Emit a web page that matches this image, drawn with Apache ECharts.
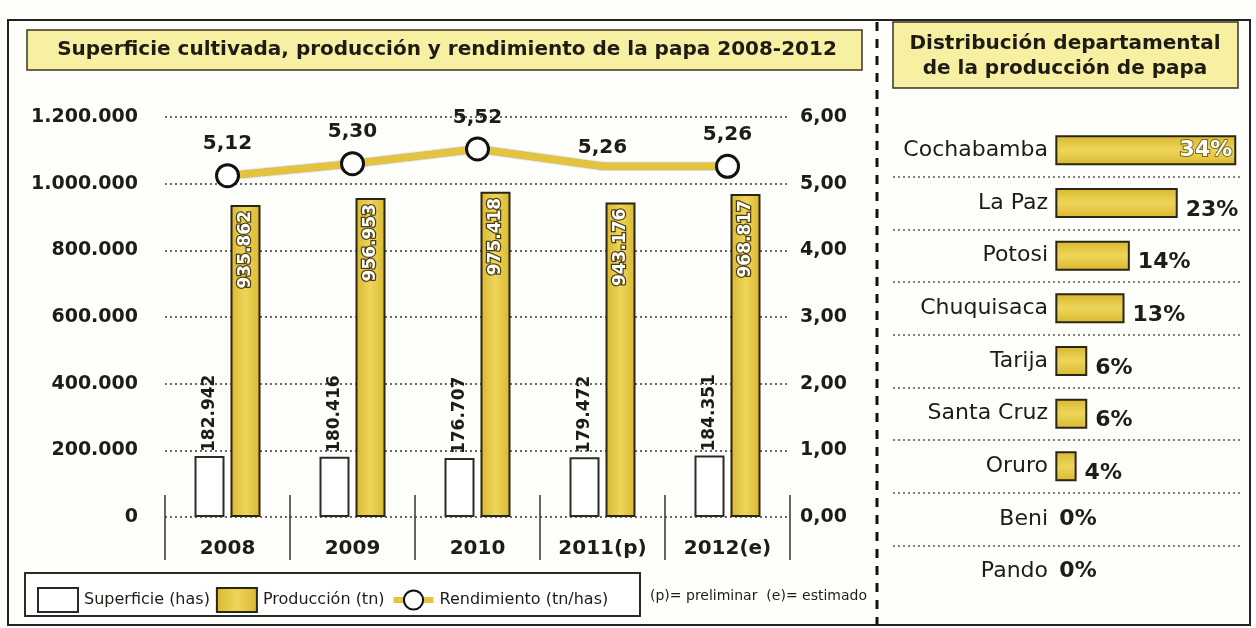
<!DOCTYPE html>
<html>
<head>
<meta charset="utf-8">
<script src="https://cdn.jsdelivr.net/npm/echarts@6/dist/echarts.min.js"></script>
<style>
  html, body { margin: 0; padding: 0; background: #fefefb; }
  #chart { width: 1256px; height: 628px; }
</style>
</head>
<body>
<div id="chart"></div>
<script>
// Papa en Bolivia: superficie, producción y rendimiento por año
const years = ['2008', '2009', '2010', '2011(p)', '2012(e)'];
const superficie = [182942, 180416, 176707, 179472, 184351];   // has
const produccion = [935862, 956953, 975418, 943176, 968817];   // tn
const rendimiento = [5.12, 5.30, 5.52, 5.26, 5.26];            // tn/has
// 2011 point is drawn without a circle marker
const rendimientoSinMarca = [false, false, false, true, false];

// Distribución departamental de la producción (%)
const departamentos = ['Cochabamba', 'La Paz', 'Potosi', 'Chuquisaca', 'Tarija', 'Santa Cruz', 'Oruro', 'Beni', 'Pando'];
const participacion = [34, 23, 14, 13, 6, 6, 4, 0, 0];

// Axis ranges
const prodAxis = { min: 0, max: 1200000, interval: 200000 };
const rendAxis = { min: 0, max: 6, interval: 1 };
const partAxis = { min: -30.5, max: 34.7 };   // negative side leaves room for the department names

const INK = '#1f1c16';
const YELLOW = '#e3c43c';
const FONT = 'DejaVu Sans';

const miles = n => String(n).replace(/\B(?=(\d{3})+(?!\d))/g, '.');
const decimal = v => v.toFixed(2).replace('.', ',');

const yellowFill = (horizontal) => new echarts.graphic.LinearGradient(
  0, 0, horizontal ? 0 : 1, horizontal ? 1 : 0,
  [{ offset: 0, color: '#d8b72e' }, { offset: 0.5, color: '#eed55a' }, { offset: 1, color: '#d8b72e' }]
);

const chart = echarts.init(document.getElementById('chart'));

chart.setOption({
  backgroundColor: '#fefefb',
  animation: false,
  textStyle: { fontFamily: FONT, color: INK },
  grid: [
    { left: 165, right: 466, top: 117, bottom: 111 },
    { left: 893, right: 16, top: 124, bottom: 30 }
  ],
  legend: {
    left: 32, top: 582,
    itemWidth: 40, itemHeight: 24, itemGap: 6,
    textStyle: { fontFamily: FONT, fontSize: 16, color: INK, padding: [0, 0, 0, 1] },
    data: [
      { name: 'Superficie (has)', icon: 'rect' },
      { name: 'Producción (tn)', icon: 'rect' },
      { name: 'Rendimiento (tn/has)', lineStyle: { width: 6 } }
    ]
  },
  xAxis: [
    {
      type: 'category', gridIndex: 0, data: years, offset: -22,
      axisLine: { show: false },
      axisTick: { show: true, length: 65, lineStyle: { color: '#333', width: 1.5 } },
      axisLabel: { margin: 44, fontFamily: FONT, fontWeight: 'bold', fontSize: 20, color: INK }
    },
    { type: 'value', gridIndex: 1, ...partAxis, show: false }
  ],
  yAxis: [
    {
      type: 'value', gridIndex: 0, position: 'left', ...prodAxis,
      axisLine: { show: false }, axisTick: { show: false },
      axisLabel: { margin: 27, fontFamily: FONT, fontWeight: 'bold', fontSize: 19, color: INK, formatter: miles },
      splitLine: { show: true, lineStyle: { color: '#3a3a3a', width: 1.5, type: [2, 3] } }
    },
    {
      type: 'value', gridIndex: 0, position: 'right', ...rendAxis,
      axisLine: { show: false }, axisTick: { show: false },
      axisLabel: { margin: 10, fontFamily: FONT, fontWeight: 'bold', fontSize: 19, color: INK, formatter: decimal },
      splitLine: { show: false }
    },
    {
      type: 'category', gridIndex: 1, data: departamentos, inverse: true,
      axisLine: { show: false, onZero: false }, axisTick: { show: false },
      // names sit just left of the zero line of the bars
      axisLabel: { margin: -155, fontFamily: FONT, fontSize: 22, color: INK },
      splitLine: { show: true, showMinLine: false, showMaxLine: false, lineStyle: { color: '#555', width: 1.5, type: [2, 3] } }
    }
  ],
  series: [
    {
      name: 'Superficie (has)', type: 'bar', xAxisIndex: 0, yAxisIndex: 0,
      barWidth: 30, barGap: '20%',
      data: superficie,
      itemStyle: { color: '#ffffff', borderColor: '#2a2a2a', borderWidth: 2 },
      label: {
        show: true, position: 'top', rotate: 90, align: 'left', verticalAlign: 'middle', distance: 4,
        fontFamily: FONT, fontWeight: 'bold', fontSize: 17, color: INK, formatter: p => miles(p.value)
      }
    },
    {
      name: 'Producción (tn)', type: 'bar', xAxisIndex: 0, yAxisIndex: 0,
      barWidth: 30,
      data: produccion,
      itemStyle: { color: yellowFill(false), borderColor: '#2b2515', borderWidth: 2 },
      label: {
        show: true, position: 'insideTop', rotate: 90, align: 'right', verticalAlign: 'middle', distance: 6,
        fontFamily: FONT, fontWeight: 'bold', fontSize: 17, color: '#ffffff',
        textBorderColor: '#4a3d10', textBorderWidth: 2.5, formatter: p => miles(p.value)
      }
    },
    {
      name: 'Rendimiento (tn/has)', type: 'line', xAxisIndex: 0, yAxisIndex: 1,
      data: rendimiento.map((v, i) => rendimientoSinMarca[i] ? { value: v, symbolSize: 0 } : v),
      symbol: 'circle', symbolSize: 22, z: 5,
      lineStyle: { color: YELLOW, width: 7, shadowColor: 'rgba(90,70,0,0.7)', shadowBlur: 2 },
      itemStyle: { color: '#ffffff', borderColor: '#111', borderWidth: 3 },
      label: {
        show: true, position: 'top', distance: 9,
        fontFamily: FONT, fontWeight: 'bold', fontSize: 20, color: INK, formatter: p => decimal(p.value)
      }
    },
    {
      name: 'Participación', type: 'bar', xAxisIndex: 1, yAxisIndex: 2,
      barWidth: 30,
      data: participacion.map((v, i) => {
        if (v === 0) {
          return { value: v, itemStyle: { borderWidth: 0 }, label: { offset: [0, 0], distance: 4 } };
        }
        if (i === 0) {
          return {
            value: v,
            label: { position: 'insideRight', distance: 4, offset: [0, 0], color: '#ffffff', textBorderColor: '#7a6a20', textBorderWidth: 2 }
          };
        }
        return v;
      }),
      itemStyle: { color: yellowFill(true), borderColor: '#2b2515', borderWidth: 2 },
      label: {
        show: true, position: 'right', distance: 8, offset: [0, 7],
        fontFamily: FONT, fontWeight: 'bold', fontSize: 22, color: INK, formatter: p => p.value + '%'
      }
    }
  ],
  graphic: [
    { type: 'rect', z: -10, shape: { x: 8, y: 20, width: 1242, height: 605 }, style: { fill: 'none', stroke: '#222', lineWidth: 2 } },
    { type: 'rect', z: -5, shape: { x: 27, y: 30, width: 835, height: 40 }, style: { fill: '#f7efa2', stroke: '#3b3520', lineWidth: 1.5 } },
    { type: 'text', x: 447, y: 50, style: { text: 'Superficie cultivada, producción y rendimiento de la papa 2008-2012', align: 'center', verticalAlign: 'middle', font: 'bold 20px "DejaVu Sans"', fill: INK } },
    { type: 'line', z: -5, shape: { x1: 877, y1: 22, x2: 877, y2: 625 }, style: { stroke: '#111', lineWidth: 3, lineDash: [9, 8] } },
    { type: 'rect', z: -5, shape: { x: 893, y: 22, width: 345, height: 66 }, style: { fill: '#f7efa2', stroke: '#3b3520', lineWidth: 1.5 } },
    { type: 'text', x: 1065, y: 56, style: { text: 'Distribución departamental\nde la producción de papa', align: 'center', verticalAlign: 'middle', lineHeight: 25, font: 'bold 20px "DejaVu Sans"', fill: INK } },
    { type: 'rect', z: -5, shape: { x: 25, y: 573, width: 615, height: 43 }, style: { fill: '#ffffff', stroke: '#2a2a2a', lineWidth: 2 } },
    { type: 'text', x: 650, y: 596, style: { text: '(p)= preliminar  (e)= estimado', verticalAlign: 'middle', font: '14px "DejaVu Sans"', fill: INK } }
  ]
});
</script>
</body>
</html>
